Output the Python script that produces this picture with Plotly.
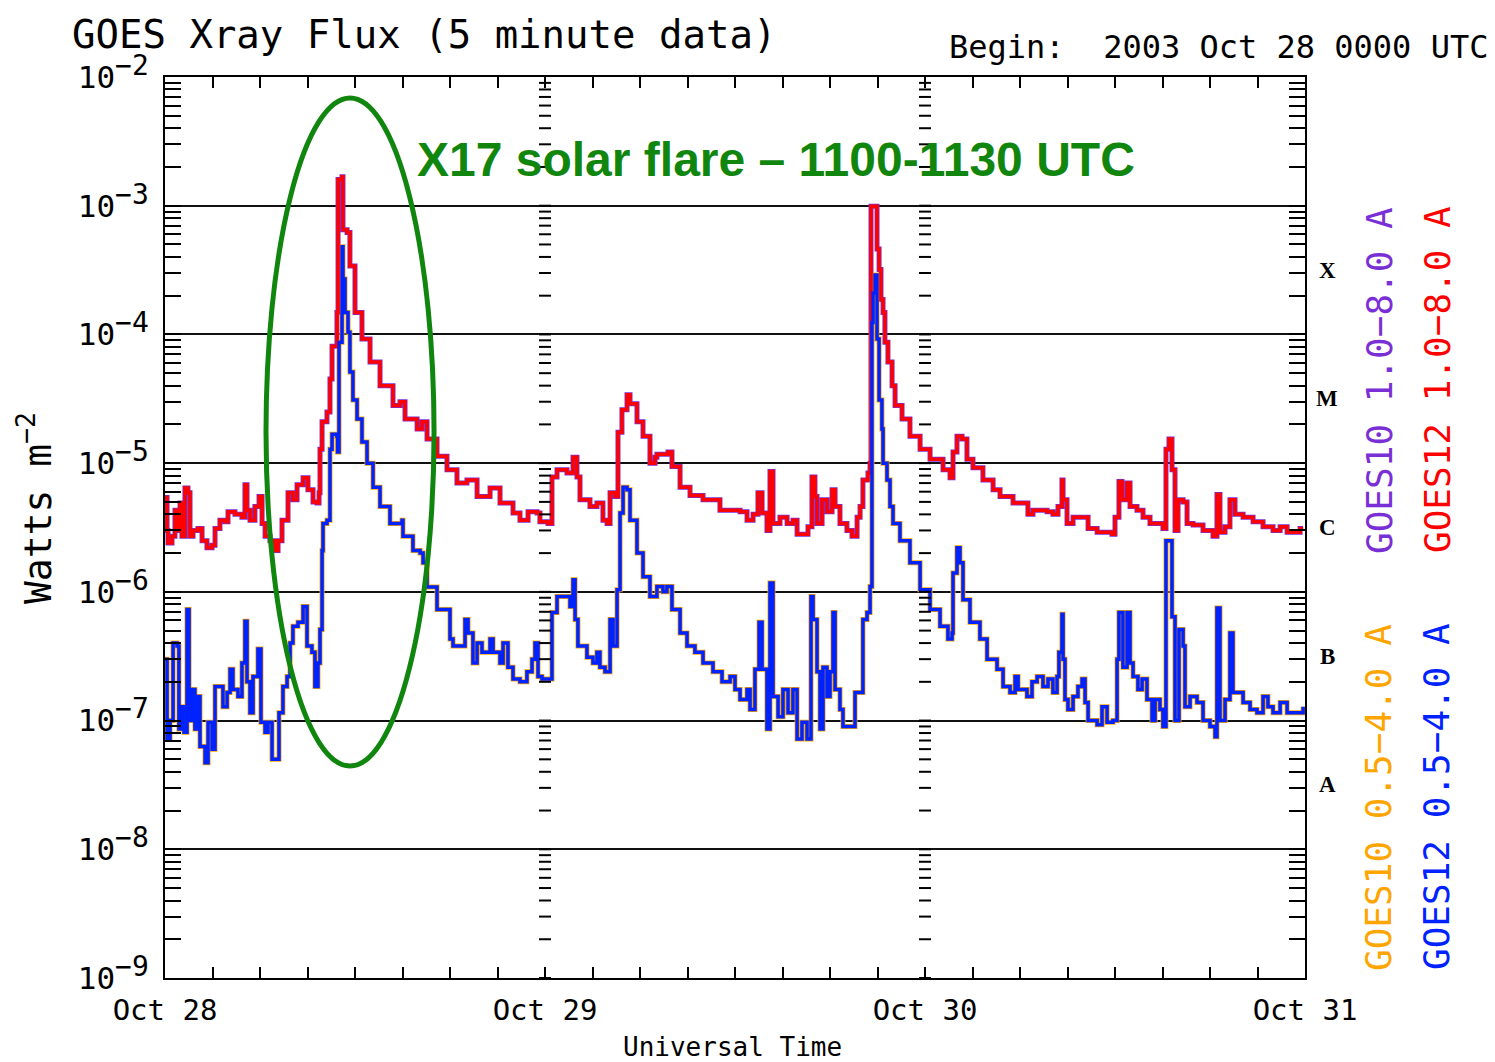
import numpy as np
import pandas as pd
import plotly.graph_objects as go

# ---------------- data (hours after 2003-10-28 00:00 UTC, flux in W m^-2) ----------------
long_hours = [
    0, 0.13, 0.19, 0.44, 0.63, 0.82, 0.95, 1.07, 1.26, 1.45,
    1.58, 1.77, 2.08, 2.34, 2.65, 2.97, 3.16, 3.47, 3.79, 3.98,
    4.42, 4.86, 5.05, 5.18, 5.37, 5.68, 5.94, 6.13, 6.32, 6.63,
    6.95, 7.14, 7.39, 7.77, 8.08, 8.34, 8.72, 9.03, 9.35, 9.60,
    9.73, 9.79, 9.92, 10.23, 10.42, 10.55, 10.74, 10.86, 10.93, 11.18,
    11.24, 11.5, 11.68, 12.0, 12.44, 12.95, 13.58, 14.4, 14.84, 15.16,
    15.92, 16.23, 16.55, 17.18, 17.81, 18.44, 19.07, 19.71, 20.53, 21.16,
    21.98, 22.42, 22.93, 23.5, 23.68, 24.19, 24.44, 24.76, 25.39, 25.77,
    26.02, 26.21, 26.84, 27.28, 27.66, 27.92, 28.11, 28.42, 28.61, 28.86,
    29.18, 29.37, 29.81, 30.19, 30.63, 30.95, 31.07, 31.77, 32.02, 32.53,
    33.16, 33.98, 35.05, 36.32, 36.76, 37.14, 37.45, 37.71, 38.02, 38.21,
    38.4, 38.84, 39.29, 39.66, 39.92, 40.29, 40.61, 40.86, 41.05, 41.18,
    41.5, 41.81, 42.13, 42.32, 42.63, 43.07, 43.39, 43.71, 43.9, 44.08,
    44.4, 44.53, 44.59, 44.84, 44.97, 45.1, 45.22, 45.35, 45.47, 45.66,
    45.92, 46.11, 46.55, 47.05, 47.69, 48.32, 49.14, 49.58, 49.77, 50.02,
    50.34, 50.65, 51.03, 51.66, 52.3, 52.74, 53.56, 54.5, 54.82, 55.71,
    56.08, 56.4, 56.65, 56.72, 56.97, 57.35, 57.92, 58.3, 58.87, 59.24,
    59.81, 60.0, 60.25, 60.44, 60.76, 60.95, 61.39, 61.77, 62.21, 62.72,
    63.03, 63.22, 63.41, 63.6, 63.79, 63.98, 64.3, 64.55, 64.93, 65.56,
    66.19, 66.44, 66.63, 66.95, 67.26, 67.58, 68.09, 68.72, 69.35, 69.98,
    70.43, 70.87, 71.24, 71.69, 71.88,
]
goes12_long = [
    5.4e-6, 3.0e-6, 2.4e-6, 2.7e-6, 4.3e-6, 3.0e-6, 4.9e-6, 2.7e-6, 6.4e-6, 5.9e-6,
    2.7e-6, 3.0e-6, 3.1e-6, 2.5e-6, 2.2e-6, 2.3e-6, 3.1e-6, 3.6e-6, 3.5e-6, 4.2e-6,
    4.0e-6, 3.8e-6, 6.8e-6, 4.3e-6, 3.6e-6, 4.6e-6, 5.5e-6, 3.4e-6, 2.7e-6, 2.5e-6,
    2.1e-6, 2.5e-6, 3.6e-6, 5.9e-6, 5.2e-6, 6.8e-6, 7.7e-6, 6.2e-6, 5.0e-6, 4.9e-6,
    5.9e-6, 1.28e-5, 2.1e-5, 2.5e-5, 4.5e-5, 8.1e-5, 8.1e-5, 1.48e-4, 1.6e-3, 1.68e-3,
    6.5e-4, 6.2e-4, 3.4e-4, 1.48e-4, 9.2e-5, 6.1e-5, 4.0e-5, 2.8e-5, 3.0e-5, 2.2e-5,
    1.84e-5, 2.1e-5, 1.54e-5, 1.13e-5, 8.9e-6, 7.0e-6, 7.4e-6, 5.5e-6, 6.4e-6, 4.9e-6,
    4.1e-6, 3.6e-6, 4.2e-6, 4.1e-6, 3.5e-6, 3.4e-6, 7.8e-6, 8.9e-6, 8.4e-6, 1.11e-5,
    7.8e-6, 5.2e-6, 4.6e-6, 4.9e-6, 3.6e-6, 3.4e-6, 5.9e-6, 5.5e-6, 1.74e-5, 2.6e-5,
    3.4e-5, 2.9e-5, 2.1e-5, 1.62e-5, 1.0e-5, 1.11e-5, 1.17e-5, 1.22e-5, 9.4e-6, 6.5e-6,
    5.6e-6, 5.2e-6, 4.3e-6, 4.2e-6, 3.6e-6, 4.0e-6, 5.9e-6, 4.1e-6, 3.0e-6, 8.6e-6,
    3.4e-6, 3.8e-6, 3.4e-6, 3.6e-6, 2.8e-6, 2.8e-6, 3.2e-6, 7.8e-6, 5.5e-6, 3.4e-6,
    5.2e-6, 4.2e-6, 6.2e-6, 4.6e-6, 3.4e-6, 3.0e-6, 2.7e-6, 3.8e-6, 4.6e-6, 7.4e-6,
    8.4e-6, 1.0e-5, 9.9e-4, 9.9e-4, 4.6e-4, 3.2e-4, 1.87e-4, 1.48e-4, 8.7e-5, 6.1e-5,
    4.0e-5, 2.8e-5, 2.2e-5, 1.62e-5, 1.28e-5, 1.07e-5, 8.9e-6, 7.7e-6, 1.22e-5, 1.62e-5,
    1.54e-5, 1.07e-5, 9.2e-6, 7.4e-6, 6.2e-6, 5.5e-6, 4.9e-6, 4.0e-6, 4.3e-6, 4.2e-6,
    4.0e-6, 4.6e-6, 7.4e-6, 5.2e-6, 3.4e-6, 3.8e-6, 3.8e-6, 3.1e-6, 2.9e-6, 2.9e-6,
    2.8e-6, 3.8e-6, 7.2e-6, 5.2e-6, 7.0e-6, 4.6e-6, 4.3e-6, 3.8e-6, 3.4e-6, 3.4e-6,
    3.1e-6, 1.28e-5, 1.54e-5, 8.9e-6, 3.0e-6, 5.2e-6, 5.0e-6, 3.4e-6, 3.3e-6, 3.0e-6,
    2.7e-6, 5.7e-6, 2.9e-6, 3.2e-6, 5.2e-6, 4.0e-6, 3.8e-6, 3.5e-6, 3.2e-6, 3.0e-6,
    3.2e-6, 2.9e-6, 2.9e-6, 3.1e-6, 3.1e-6,
]
# GOES10 1.0-8.0 A lies on top of the GOES12 trace at this scale
goes10_long = goes12_long

short_hours = [
    0, 0.13, 0.32, 0.51, 0.76, 0.88, 1.07, 1.2, 1.39, 1.52,
    1.71, 1.89, 2.08, 2.21, 2.53, 2.72, 2.97, 3.16, 3.47, 3.66,
    3.92, 4.11, 4.29, 4.61, 4.86, 5.05, 5.18, 5.37, 5.56, 5.87,
    6.06, 6.32, 6.51, 6.76, 7.07, 7.2, 7.45, 7.71, 7.9, 8.08,
    8.4, 8.72, 8.97, 9.28, 9.47, 9.66, 9.79, 9.92, 9.98, 10.23,
    10.42, 10.55, 10.86, 10.9, 10.99, 11.18, 11.24, 11.37, 11.56, 11.68,
    11.87, 12.13, 12.44, 12.76, 13.14, 13.58, 14.21, 14.72, 14.97, 15.03,
    15.66, 16.11, 16.3, 16.55, 17.18, 18.0, 18.19, 18.82, 18.95, 19.14,
    19.45, 19.71, 20.02, 20.53, 20.72, 21.16, 21.35, 21.66, 21.98, 22.42,
    22.86, 23.18, 23.37, 23.56, 23.81, 24.19, 24.44, 24.76, 25.14, 25.58,
    25.77, 25.9, 26.08, 26.65, 27.03, 27.28, 27.47, 27.79, 27.98, 28.11,
    28.3, 28.55, 28.74, 28.93, 29.18, 29.37, 29.81, 30.19, 30.63, 31.07,
    31.45, 31.7, 32.02, 32.53, 32.97, 33.47, 33.98, 34.61, 35.18, 35.69,
    36.0, 36.32, 36.76, 36.95, 37.26, 37.52, 37.71, 38.02, 38.21, 38.4,
    38.72, 39.03, 39.35, 39.66, 39.92, 40.23, 40.55, 40.8, 40.93, 41.18,
    41.37, 41.56, 41.81, 42.0, 42.19, 42.32, 42.63, 42.82, 43.26, 43.58,
    43.9, 44.08, 44.34, 44.53, 44.65, 44.72, 44.84, 44.97, 45.1, 45.28,
    45.35, 45.6, 45.79, 45.98, 46.42, 47.05, 47.69, 48.32, 48.95, 49.45,
    49.71, 49.77, 50.02, 50.21, 50.4, 50.84, 51.47, 51.92, 52.55, 52.93,
    53.37, 53.69, 53.88, 54.44, 54.76, 55.08, 55.45, 55.77, 56.08, 56.34,
    56.46, 56.65, 56.72, 56.84, 57.03, 57.35, 57.66, 57.92, 58.11, 58.3,
    58.87, 59.18, 59.5, 59.87, 60.13, 60.25, 60.5, 60.76, 60.95, 61.14,
    61.45, 61.71, 62.02, 62.34, 62.53, 62.84, 63.03, 63.22, 63.41, 63.6,
    63.79, 64.04, 64.3, 64.42, 64.74, 65.18, 65.56, 66.0, 66.32, 66.44,
    66.63, 66.95, 67.26, 67.45, 67.77, 68.09, 68.53, 68.97, 69.35, 69.66,
    69.98, 70.43, 70.87, 71.5, 71.88,
]
goes12_short = [
    3.0e-7, 7.2e-8, 1.0e-7, 4.0e-7, 3.8e-7, 8.6e-8, 1.28e-7, 8.1e-8, 7.3e-7, 1.0e-7,
    1.74e-7, 8.6e-8, 1.54e-7, 6.3e-8, 4.7e-8, 9.7e-8, 6.0e-8, 1.84e-7, 1.84e-7, 1.28e-7,
    1.65e-7, 2.5e-7, 1.74e-7, 1.54e-7, 2.8e-7, 5.9e-7, 2.0e-7, 1.15e-7, 2.2e-7, 3.6e-7,
    9.7e-8, 8.1e-8, 9.7e-8, 5.0e-8, 5.0e-8, 1.15e-7, 1.84e-7, 2.2e-7, 4.0e-7, 5.4e-7,
    5.8e-7, 7.7e-7, 3.8e-7, 3.4e-7, 1.84e-7, 2.8e-7, 5.1e-7, 2.1e-6, 3.4e-6, 3.6e-6,
    1.28e-5, 1.68e-5, 1.62e-5, 1.22e-5, 8.7e-5, 4.8e-4, 2.7e-4, 1.48e-4, 1.04e-4, 5.1e-5,
    3.1e-5, 2.2e-5, 1.46e-5, 1.0e-5, 6.5e-6, 4.6e-6, 3.4e-6, 3.4e-6, 3.6e-6, 2.7e-6,
    2.1e-6, 2.0e-6, 1.68e-6, 1.09e-6, 7.3e-7, 4.3e-7, 3.8e-7, 3.8e-7, 6.1e-7, 4.8e-7,
    2.8e-7, 4.0e-7, 3.4e-7, 4.3e-7, 3.4e-7, 2.8e-7, 4.0e-7, 2.6e-7, 2.1e-7, 2.0e-7,
    2.4e-7, 3.0e-7, 4.0e-7, 2.2e-7, 2.1e-7, 2.1e-7, 6.9e-7, 9.2e-7, 9.2e-7, 7.7e-7,
    1.24e-6, 6.1e-7, 3.8e-7, 3.1e-7, 2.8e-7, 3.4e-7, 2.6e-7, 2.4e-7, 2.4e-7, 6.1e-7,
    3.8e-7, 1.04e-6, 4.1e-6, 6.5e-6, 6.2e-6, 3.6e-6, 2.0e-6, 1.31e-6, 9.2e-7, 1.1e-6,
    1.0e-6, 1.1e-6, 7.3e-7, 4.8e-7, 3.8e-7, 3.4e-7, 2.8e-7, 2.4e-7, 2.0e-7, 2.2e-7,
    1.74e-7, 1.46e-7, 1.74e-7, 1.22e-7, 2.5e-7, 5.8e-7, 2.5e-7, 8.6e-8, 1.17e-6, 1.54e-7,
    1.07e-7, 1.74e-7, 1.15e-7, 1.74e-7, 7.2e-8, 9.7e-8, 7.2e-8, 9.2e-7, 6.1e-7, 2.4e-7,
    8.6e-8, 2.6e-7, 1.54e-7, 2.4e-7, 6.9e-7, 1.74e-7, 1.22e-7, 9.0e-8, 9.0e-8, 1.65e-7,
    1.65e-7, 6.1e-7, 6.9e-7, 1.1e-6, 1.24e-4, 2.1e-4, 2.9e-4, 9.2e-5, 3.1e-5, 1.84e-5,
    1.0e-5, 7.4e-6, 4.6e-6, 3.4e-6, 2.5e-6, 1.68e-6, 1.04e-6, 7.3e-7, 5.4e-7, 4.3e-7,
    4.8e-7, 1.4e-6, 2.2e-6, 1.68e-6, 8.7e-7, 5.8e-7, 4.3e-7, 3.0e-7, 2.5e-7, 1.84e-7,
    1.65e-7, 2.2e-7, 1.74e-7, 1.54e-7, 2.0e-7, 2.2e-7, 1.84e-7, 2.1e-7, 1.65e-7, 2.2e-7,
    3.4e-7, 6.7e-7, 3.0e-7, 1.46e-7, 1.22e-7, 1.54e-7, 1.84e-7, 2.1e-7, 1.38e-7, 1.0e-7,
    9.3e-8, 1.28e-7, 9.7e-8, 1.0e-7, 3.0e-7, 6.9e-7, 2.6e-7, 6.9e-7, 2.8e-7, 2.2e-7,
    1.74e-7, 2.1e-7, 1.46e-7, 1.0e-7, 1.46e-7, 1.22e-7, 9.0e-8, 2.5e-6, 2.5e-6, 6.4e-7,
    1.0e-7, 5.1e-7, 3.8e-7, 1.28e-7, 1.54e-7, 1.38e-7, 1.0e-7, 9.0e-8, 7.5e-8, 7.5e-7,
    1.0e-7, 1.46e-7, 4.8e-7, 1.65e-7, 1.65e-7, 1.38e-7, 1.22e-7, 1.15e-7, 1.54e-7, 1.28e-7,
    1.15e-7, 1.38e-7, 1.15e-7, 1.15e-7, 1.28e-7,
]
# GOES10 0.5-4.0 A lies under the GOES12 trace at this scale
goes10_short = goes12_short

day_labels = ["Oct 28", "Oct 29", "Oct 30", "Oct 31"]
decade_exponents = [-9, -8, -7, -6, -5, -4, -3, -2]
flare_classes = ["A", "B", "C", "M", "X"]
class_exponents = [-8, -7, -6, -5, -4]

# ---------------- styling ----------------
MONO = "DejaVu Sans Mono"
RED, BLUE, PURPLE, ORANGE = "#ff0000", "#0022ff", "#7a2fd6", "#ffa500"
GREEN = "#11860f"

base = pd.Timestamp("2003-10-28 00:00")


def to_time(hours):
    return base + pd.to_timedelta(hours, unit="h")


fig = go.Figure()
fig.add_trace(go.Scatter(x=to_time(long_hours), y=goes10_long, mode="lines",
                         line=dict(color=PURPLE, width=5, shape="hv"), hoverinfo="skip"))
fig.add_trace(go.Scatter(x=to_time(short_hours), y=goes10_short, mode="lines",
                         line=dict(color=ORANGE, width=5, shape="hv"), hoverinfo="skip"))
fig.add_trace(go.Scatter(x=to_time(long_hours), y=goes12_long, mode="lines",
                         line=dict(color=RED, width=3.5, shape="hv"), name="GOES12 1.0-8.0 A"))
fig.add_trace(go.Scatter(x=to_time(short_hours), y=goes12_short, mode="lines",
                         line=dict(color=BLUE, width=3.5, shape="hv"), name="GOES12 0.5-4.0 A"))

# x ticks every 3 hours, labels on day boundaries
xtickvals = [base + pd.Timedelta(hours=3 * i) for i in range(25)]
xticktext = [day_labels[i // 8] if i % 8 == 0 else "" for i in range(25)]

ytickvals = [10.0 ** e for e in decade_exponents]
yticktext = ["10<sup><span style='font-size:28px'>−%d</span></sup>" % (-e)
             for e in decade_exponents]
yminor = [m * 10.0 ** e for e in decade_exponents[:-1] for m in range(2, 10)]

fig.update_xaxes(
    type="date", range=[base, base + pd.Timedelta(hours=72)],
    tickmode="array", tickvals=xtickvals, ticktext=xticktext,
    ticks="inside", ticklen=11, tickwidth=2, tickcolor="black",
    showline=True, linewidth=2, linecolor="black", mirror="ticks",
    showgrid=False, zeroline=False,
    tickfont=dict(family=MONO, size=29, color="black"), ticklabelstandoff=5,
)
fig.update_yaxes(
    type="log", range=[-9, -2],
    tickmode="array", tickvals=ytickvals, ticktext=yticktext,
    ticks="inside", ticklen=16, tickwidth=2, tickcolor="black",
    showline=True, linewidth=2, linecolor="black", mirror="ticks",
    showgrid=True, gridcolor="#111111", gridwidth=2, zeroline=False,
    minor=dict(tickmode="array", tickvals=yminor, ticks="inside", ticklen=16,
               tickwidth=2, tickcolor="black", showgrid=False),
    tickfont=dict(family=MONO, size=31, color="black"), ticklabelstandoff=8,
)

shapes = []
# tick columns at the Oct 29 and Oct 30 boundaries
for frac in (1 / 3, 2 / 3):
    for e in decade_exponents[:-1]:
        for m in range(1, 10):
            yp = (np.log10(m) + e + 9) / 7
            shapes.append(dict(type="line", xref="paper", yref="paper",
                               x0=frac - 6 / 1140, x1=frac + 6 / 1140, y0=yp, y1=yp,
                               line=dict(color="black", width=2)))
# green ellipse around the X17 flare
shapes.append(dict(type="circle", xref="paper", yref="paper",
                   x0=0.0886, x1=0.236, y0=0.2353, y1=0.9767,
                   line=dict(color=GREEN, width=5)))

annotations = [
    dict(text="GOES Xray Flux (5 minute data)", x=-0.0833, y=1.047, xanchor="left",
         font=dict(family=MONO, size=39, color="black")),
    dict(text="Begin:\u00a0\u00a02003 Oct 28 0000 UTC", x=1.1623, y=1.0333, xanchor="right",
         font=dict(family=MONO, size=32, color="black")),
    dict(text="Watts m<sup>−2</sup>", x=-0.114, y=0.5216, textangle=-90,
         font=dict(family=MONO, size=38, color="black")),
    dict(text="Universal Time", x=0.498, y=-0.0766,
         font=dict(family=MONO, size=26, color="black")),
    dict(text="<b>X17 solar flare – 1100-1130 UTC</b>", x=0.536, y=0.9079,
         font=dict(family="Liberation Sans", size=48, color=GREEN)),
    dict(text="GOES10 1.0−8.0 A", x=1.0649, y=0.6637, textangle=-90,
         font=dict(family=MONO, size=36, color=PURPLE)),
    dict(text="GOES12 1.0−8.0 A", x=1.1158, y=0.6637, textangle=-90,
         font=dict(family=MONO, size=36, color=RED)),
    dict(text="GOES10 0.5−4.0 A", x=1.0649, y=0.2009, textangle=-90,
         font=dict(family=MONO, size=36, color=ORANGE)),
    dict(text="GOES12 0.5−4.0 A", x=1.1158, y=0.2009, textangle=-90,
         font=dict(family=MONO, size=36, color=BLUE)),
]
for cls, e in zip(flare_classes, class_exponents):
    annotations.append(dict(text="<b>%s</b>" % cls, x=1.0193, y=(e + 0.5 + 9) / 7,
                            font=dict(family="Liberation Serif", size=23, color="black")))
for a in annotations:
    a.setdefault("xanchor", "center")
    a.update(xref="paper", yref="paper", yanchor="middle", showarrow=False)

# page body has an 8 px margin; size the figure so the plot area lands where the reference has it
fig.update_layout(
    width=1487, height=1054,
    margin=dict(l=157, r=190, t=69, b=84),
    paper_bgcolor="white", plot_bgcolor="white",
    showlegend=False, shapes=shapes, annotations=annotations,
)

fig.write_html("out.html")
